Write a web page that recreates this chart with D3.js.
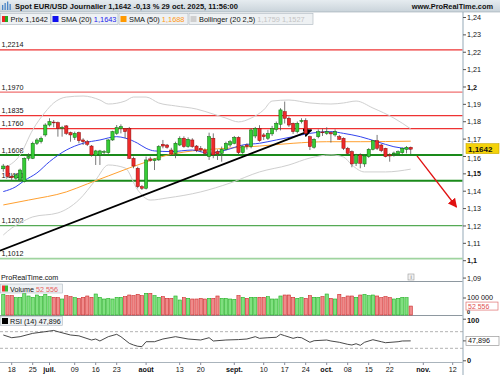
<!DOCTYPE html>
<html><head><meta charset="utf-8">
<script src="https://cdn.jsdelivr.net/npm/d3@7/dist/d3.min.js"></script>
<style>body{margin:0;background:#fff}svg{display:block;font-family:"Liberation Sans",Arial,sans-serif}</style>
</head><body><svg id="c" width="500" height="375"></svg>
<script>
// ---------------- DATA ----------------
const firstDay = "2025-06-16", lastAxisDay = "2025-11-14";
const open  = [1.1529,1.1545,1.1485,1.1475,1.1465,1.1455,1.1590,1.1589,1.1676,1.1685,1.1724,1.1781,1.1798,1.1795,1.1762,1.1776,1.1737,1.1710,1.1737,1.1695,1.1685,1.1660,1.1605,1.1609,1.1625,1.1622,1.1695,1.1733,1.1760,1.1760,1.1762,1.1589,1.1532,1.1426,1.1417,1.1586,1.1576,1.1580,1.1670,1.1666,1.1637,1.1618,1.1666,1.1705,1.1657,1.1695,1.1660,1.1647,1.1637,1.1599,1.1705,1.1628,1.1618,1.1641,1.1666,1.1676,1.1710,1.1622,1.1666,1.1657,1.1718,1.1762,1.1724,1.1705,1.1730,1.1756,1.1785,1.1858,1.1820,1.1791,1.1743,1.1801,1.1807,1.1714,1.1653,1.1714,1.1741,1.1733,1.1737,1.1724,1.1714,1.1705,1.1647,1.1628,1.1561,1.1609,1.1557,1.1599,1.1641,1.1691,1.1666,1.1647,1.1609,1.1614,1.1614,1.1622,1.1641,1.1653];
const high  = [1.1557,1.1550,1.1505,1.1503,1.1530,1.1595,1.1618,1.1685,1.1705,1.1715,1.1791,1.1820,1.1810,1.1801,1.1776,1.1781,1.1743,1.1743,1.1743,1.1705,1.1695,1.1666,1.1638,1.1638,1.1637,1.1700,1.1748,1.1781,1.1785,1.1762,1.1770,1.1599,1.1541,1.1436,1.1599,1.1599,1.1589,1.1665,1.1695,1.1672,1.1650,1.1685,1.1716,1.1716,1.1710,1.1705,1.1666,1.1660,1.1647,1.1737,1.1733,1.1640,1.1657,1.1685,1.1695,1.1718,1.1716,1.1665,1.1676,1.1762,1.1770,1.1780,1.1735,1.1753,1.1776,1.1801,1.1878,1.1916,1.1830,1.1795,1.1801,1.1820,1.1820,1.1720,1.1705,1.1756,1.1760,1.1768,1.1743,1.1756,1.1724,1.1710,1.1655,1.1635,1.1615,1.1618,1.1610,1.1648,1.1695,1.1724,1.1672,1.1650,1.1618,1.1628,1.1635,1.1652,1.1660,1.1657];
const low   = [1.1512,1.1478,1.1461,1.1465,1.1455,1.1450,1.1576,1.1585,1.1666,1.1675,1.1714,1.1772,1.1768,1.1714,1.1714,1.1724,1.1685,1.1695,1.1676,1.1666,1.1660,1.1599,1.1551,1.1551,1.1609,1.1615,1.1690,1.1724,1.1733,1.1705,1.1585,1.1532,1.1417,1.1407,1.1410,1.1570,1.1522,1.1575,1.1647,1.1645,1.1605,1.1590,1.1660,1.1650,1.1650,1.1650,1.1625,1.1625,1.1605,1.1580,1.1590,1.1580,1.1570,1.1635,1.1655,1.1670,1.1609,1.1615,1.1640,1.1647,1.1705,1.1685,1.1695,1.1695,1.1718,1.1743,1.1750,1.1790,1.1770,1.1730,1.1733,1.1790,1.1725,1.1637,1.1645,1.1705,1.1718,1.1724,1.1680,1.1714,1.1695,1.1637,1.1610,1.1538,1.1545,1.1532,1.1540,1.1592,1.1635,1.1637,1.1625,1.1595,1.1570,1.1599,1.1605,1.1615,1.1618,1.1614];
const close = [1.1545,1.1484,1.1478,1.1494,1.1522,1.1589,1.1600,1.1676,1.1695,1.1705,1.1781,1.1801,1.1795,1.1762,1.1768,1.1733,1.1724,1.1733,1.1691,1.1685,1.1670,1.1609,1.1632,1.1632,1.1628,1.1695,1.1743,1.1766,1.1772,1.1743,1.1589,1.1545,1.1426,1.1417,1.1580,1.1578,1.1586,1.1657,1.1660,1.1653,1.1614,1.1676,1.1705,1.1657,1.1699,1.1657,1.1634,1.1637,1.1618,1.1714,1.1609,1.1615,1.1641,1.1676,1.1685,1.1710,1.1622,1.1657,1.1657,1.1753,1.1762,1.1691,1.1714,1.1733,1.1762,1.1791,1.1868,1.1820,1.1781,1.1743,1.1791,1.1807,1.1733,1.1657,1.1699,1.1743,1.1737,1.1743,1.1730,1.1743,1.1699,1.1647,1.1618,1.1557,1.1609,1.1561,1.1603,1.1641,1.1691,1.1647,1.1634,1.1599,1.1603,1.1620,1.1628,1.1647,1.1653,1.1642];
const volume = [121600,113700,113700,102000,103900,127500,111800,103900,117600,107800,121600,107800,103900,102000,94100,113700,107800,102000,98000,103900,111800,103900,123500,103900,94100,98000,94100,103900,103900,107800,117600,113700,121600,113700,127500,127500,113700,103900,107800,98000,98000,111800,88200,102000,98000,94100,94100,98000,94100,98000,98000,111800,98000,98000,94100,92200,113700,103900,98000,103900,103900,103900,103900,107800,94100,94100,111800,117600,117600,103900,98000,102000,98000,113700,103900,103900,107800,123500,98000,94100,121600,102000,111800,111800,103900,117600,121600,113700,117600,111800,102000,107800,102000,94100,98000,103900,102000,52556];
// indicator readings: [trading-day index, value]
const sma20 = [[0,1.1398],[3,1.1426],[5,1.1461],[8,1.1505],[11,1.1570],[15,1.1637],[19,1.1676],[23,1.1695],[27,1.1714],[29,1.1706],[32,1.1676],[34,1.1647],[36,1.1632],[40,1.1628],[45,1.1637],[49,1.1618],[53,1.1637],[57,1.1666],[61,1.1676],[65,1.1695],[69,1.1714],[73,1.1733],[78,1.1743],[81,1.1733],[85,1.1714],[89,1.1685],[93,1.1656],[97,1.1643]];
const sma50 = [[0,1.1321],[6,1.1349],[15,1.1396],[20,1.1442],[25,1.1488],[30,1.1534],[34,1.1568],[37,1.1594],[45,1.1632],[53,1.1647],[61,1.1660],[69,1.1676],[77,1.1685],[85,1.1685],[97,1.1688]];
const bollUp = [[0,1.1534],[4,1.1609],[7,1.1753],[10,1.1856],[12,1.1908],[15,1.1942],[19,1.1948],[23,1.1925],[25,1.1902],[29,1.1919],[31,1.1942],[34,1.1942],[37,1.1908],[41,1.1891],[46,1.1873],[50,1.1844],[53,1.1821],[56,1.1799],[59,1.1821],[62,1.1868],[64,1.1919],[68,1.1925],[73,1.1908],[78,1.1902],[81,1.1908],[84,1.1919],[88,1.1879],[93,1.1821],[97,1.1759]];
const bollLow = [[0,1.1148],[2,1.1188],[4,1.1217],[7,1.1252],[13,1.1275],[18,1.1350],[22,1.1465],[25,1.1551],[29,1.1534],[32,1.1407],[35,1.1349],[39,1.1361],[47,1.1396],[54,1.1447],[61,1.1511],[68,1.1551],[73,1.1591],[78,1.1609],[81,1.1597],[83,1.1551],[86,1.1511],[91,1.1511],[97,1.1527]];
const rsi = [[0,62],[2,55.5],[4,58],[7,66],[10,70],[12,73],[13,70],[16,62],[18,60],[21,50],[22,52.4],[23,47.6],[25,58],[27,63.7],[28,58],[30,42],[31,38],[32,35],[33,34],[34,45.9],[36,45.9],[38,52.4],[41,58],[44,52.4],[47,50],[49,55.5],[50,47.6],[53,50],[56,51],[58,52.4],[60,58],[61,54],[63,55.5],[65,56.5],[66,63.7],[67,60.4],[69,54],[70,56.5],[71,55.5],[73,44.5],[74,48.3],[77,50],[78,47.6],[80,44.5],[82,39.6],[83,38],[84,41],[85,37.2],[86,44.5],[88,50.7],[90,45.9],[91,43.5],[94,45.9],[95,47.6],[97,47.9]];
const levelValues = [1.2214,1.1970,1.1835,1.1760,1.1608,1.1460,1.1202,1.1012];
const levelLabels = ["1,2214","1,1970","1,1835","1,1760","1,1608","1,1460","1,1202","1,1012"];
const trendLine = [[-0.8,1.1058],[73.4,1.1752]];
const forecastArrow = [[98.5,1.1603],[107.9,1.1309]];
const priceTicks = [1.09,1.10,1.11,1.12,1.13,1.14,1.15,1.16,1.17,1.18,1.19,1.20,1.21,1.22,1.23,1.24];
const boldPriceTicks = [1.10,1.15,1.20];
const xTickDates  = ["2025-06-18","2025-06-25","2025-07-01","2025-07-09","2025-07-16","2025-07-23","2025-08-01","2025-08-13","2025-08-20","2025-09-01","2025-09-10","2025-09-17","2025-09-24","2025-10-01","2025-10-08","2025-10-15","2025-10-22","2025-11-03","2025-11-12"];
const xTickLabels = ["18","25","juil.","09","16","23","août","13","20","sept.","10","17","24","oct.","08","15","22","nov.","12"];
const lastPrice = 1.1642, lastVolume = 52556, lastRsi = 47.896;

// ---------------- SETUP ----------------
const days = [];
for (let d = new Date(firstDay + "T00:00:00Z"); d <= new Date(lastAxisDay + "T00:00:00Z"); d.setUTCDate(d.getUTCDate() + 1)) {
  const w = d.getUTCDay(); if (w !== 0 && w !== 6) days.push(d.toISOString().slice(0, 10));
}
const svg = d3.select("#c");
const AX = 463;
const x = d3.scaleLinear().domain([0, 107]).range([3.3, 452.7]);
const y = d3.scaleLinear().domain([1.10, 1.24]).range([260.7, 17.5]);
const yv = d3.scaleLinear().domain([0, 100000]).range([315, 298]);
const yr = d3.scaleLinear().domain([0, 100]).range([360.8, 319.2]);
const fmt = v => String(v).replace(".", ",");

const defs = svg.append("defs");
defs.append("clipPath").attr("id", "pc").append("rect").attr("x", 0).attr("y", 12).attr("width", AX).attr("height", 269.5);
defs.append("marker").attr("id", "ahB").attr("viewBox", "0 0 10 10").attr("refX", 9).attr("refY", 5)
  .attr("markerWidth", 5).attr("markerHeight", 5).attr("orient", "auto").attr("markerUnits", "strokeWidth")
  .append("path").attr("d", "M0,0L10,5L0,10z").attr("fill", "#000");
defs.append("marker").attr("id", "ahR").attr("viewBox", "0 0 10 10").attr("refX", 9).attr("refY", 5)
  .attr("markerWidth", 7).attr("markerHeight", 7).attr("orient", "auto").attr("markerUnits", "strokeWidth")
  .append("path").attr("d", "M0,0L10,5L0,10z").attr("fill", "#e01010");
const hg = defs.append("linearGradient").attr("id", "hg").attr("x1", 0).attr("y1", 0).attr("x2", 0).attr("y2", 1);
hg.append("stop").attr("offset", 0).attr("stop-color", "#e6ecf0");
hg.append("stop").attr("offset", 1).attr("stop-color", "#c9d3da");

// ---------------- PRICE PANEL ----------------
const pp = svg.append("g").attr("clip-path", "url(#pc)");
const levelColor = ["#ee3333","#f07070","#ee3333","#ee3333","#1a8a1a","#1a8a1a","#55aa55","#9fd49f"];
const levelWidth = [1.2,1.2,1.2,1.2,2,2,1.2,1.8];
pp.selectAll("line.lv").data(levelValues).join("line").attr("class", "lv")
  .attr("x1", 0).attr("x2", AX).attr("y1", d => y(d)).attr("y2", d => y(d))
  .attr("stroke", (d, i) => levelColor[i]).attr("stroke-width", (d, i) => levelWidth[i]);
pp.selectAll("text.lv").data(levelLabels).join("text").attr("class", "lv")
  .attr("x", 1.5).attr("y", (d, i) => y(levelValues[i]) - 2.5).attr("font-size", 7.2).attr("fill", "#111").text(d => d);

const line = d3.line().x(d => x(d[0])).y(d => y(d[1])).curve(d3.curveMonotoneX);
pp.append("path").attr("d", line(bollUp)).attr("fill", "none").attr("stroke", "#cfcfcf").attr("stroke-width", 1);
pp.append("path").attr("d", line(bollLow)).attr("fill", "none").attr("stroke", "#cfcfcf").attr("stroke-width", 1);
pp.append("path").attr("d", line(sma50)).attr("fill", "none").attr("stroke", "#ffa030").attr("stroke-width", 1);
pp.append("path").attr("d", line(sma20)).attr("fill", "none").attr("stroke", "#3344ee").attr("stroke-width", 1);

pp.append("line").attr("x1", x(trendLine[0][0])).attr("y1", y(trendLine[0][1]))
  .attr("x2", x(trendLine[1][0])).attr("y2", y(trendLine[1][1]))
  .attr("stroke", "#000").attr("stroke-width", 1.8).attr("marker-end", "url(#ahB)");

const idx = d3.range(close.length);
const cg = pp.append("g");
cg.selectAll("line.w").data(idx).join("line").attr("class", "w")
  .attr("x1", i => x(i)).attr("x2", i => x(i)).attr("y1", i => y(high[i])).attr("y2", i => y(low[i]))
  .attr("stroke", "#555").attr("stroke-width", 0.8);
cg.selectAll("rect.b").data(idx).join("rect").attr("class", "b")
  .attr("x", i => x(i) - 1.6).attr("width", 3.2)
  .attr("y", i => y(Math.max(open[i], close[i])))
  .attr("height", i => Math.max(0.8, Math.abs(y(open[i]) - y(close[i]))))
  .attr("fill", i => close[i] >= open[i] ? "#35cc35" : "#ee2a2a")
  .attr("stroke", i => close[i] >= open[i] ? "#0c6a0c" : "#8a0c0c").attr("stroke-width", 0.5);

pp.append("line").attr("x1", x(forecastArrow[0][0])).attr("y1", y(forecastArrow[0][1]))
  .attr("x2", x(forecastArrow[1][0])).attr("y2", y(forecastArrow[1][1]))
  .attr("stroke", "#e01010").attr("stroke-width", 1.3).attr("marker-end", "url(#ahR)");

// ---------------- PANELS & RIGHT AXIS ----------------
svg.append("line").attr("x1", 0).attr("x2", AX).attr("y1", 281.5).attr("y2", 281.5).attr("stroke", "#8e98a0");
svg.append("line").attr("x1", 0).attr("x2", AX).attr("y1", 315.5).attr("y2", 315.5).attr("stroke", "#8e98a0");
svg.append("line").attr("x1", 0).attr("x2", AX).attr("y1", 362.5).attr("y2", 362.5).attr("stroke", "#aab4bc");
svg.append("line").attr("x1", AX).attr("x2", AX).attr("y1", 12).attr("y2", 375).attr("stroke", "#b4c2cc").attr("stroke-width", 1.4);

const ax = svg.append("g");
ax.selectAll("line.pt").data(priceTicks).join("line").attr("class", "pt")
  .attr("x1", AX).attr("x2", AX + 3).attr("y1", d => y(d)).attr("y2", d => y(d)).attr("stroke", "#555");
ax.selectAll("text.pt").data(priceTicks).join("text").attr("class", "pt")
  .attr("x", AX + 4).attr("y", d => y(d) + (Math.abs(d - 1.16) < 1e-9 ? 4.2 : 2.6)).attr("font-size", 7.2)
  .attr("font-weight", d => boldPriceTicks.some(b => Math.abs(b - d) < 1e-9) ? "bold" : "normal")
  .attr("fill", "#111").text(d => fmt(+d.toFixed(2)));

// last price box
const lp = svg.append("g");
lp.append("rect").attr("x", AX + 3).attr("y", y(lastPrice) - 5.5).attr("width", 33).attr("height", 10)
  .attr("fill", "#f4d20a").attr("stroke", "#c9a800").attr("stroke-width", 0.6);
lp.append("text").attr("x", AX + 5).attr("y", y(lastPrice) + 2.6).attr("font-size", 8).attr("font-weight", "bold").attr("fill", "#111").text(fmt(lastPrice));

// ---------------- VOLUME ----------------
svg.append("text").attr("x", 1).attr("y", 280).attr("font-size", 7.2).attr("fill", "#111").text("ProRealTime.com");
const ib = svg.append("g");
ib.append("rect").attr("x", 408).attr("y", 274).attr("width", 6).attr("height", 6).attr("fill", "#f2f2f2").attr("stroke", "#999").attr("stroke-width", 0.6);
ib.append("text").attr("x", 411).attr("y", 279.3).attr("font-size", 5.5).attr("text-anchor", "middle").attr("fill", "#666").text("i");

svg.append("g").selectAll("rect").data(idx).join("rect")
  .attr("x", i => x(i) - 1.6).attr("width", 3.2)
  .attr("y", i => yv(volume[i])).attr("height", i => yv(0) - yv(volume[i]))
  .attr("fill", i => close[i] >= open[i] ? "#7fe07f" : "#f08a8a")
  .attr("stroke", i => close[i] >= open[i] ? "#22b022" : "#cc2a2a").attr("stroke-width", 0.6);

const vl = svg.append("g");
vl.append("rect").attr("x", 0.5).attr("y", 284).attr("width", 62).attr("height", 9).attr("fill", "#eef1f3").attr("stroke", "#b0bac2").attr("stroke-width", 0.6);
vl.append("rect").attr("x", 2).attr("y", 285.5).attr("width", 3).attr("height", 6).attr("fill", "#ee3333");
vl.append("rect").attr("x", 5).attr("y", 285.5).attr("width", 3).attr("height", 6).attr("fill", "#33bb33");
vl.append("text").attr("x", 10).attr("y", 291.5).attr("font-size", 7.2).attr("fill", "#111").text("Volume ")
  .append("tspan").attr("fill", "#e86060").text("52 556");

svg.append("line").attr("x1", AX).attr("x2", AX + 3).attr("y1", yv(100000)).attr("y2", yv(100000)).attr("stroke", "#555");
svg.append("text").attr("x", AX + 4).attr("y", yv(100000) + 2.4).attr("font-size", 7.2).attr("fill", "#111").text("100 000");
svg.append("text").attr("x", AX + 4).attr("y", yv(0) - 0.8).attr("font-size", 5.6).attr("font-weight", "bold").attr("fill", "#111").text("0");
svg.append("rect").attr("x", AX + 3).attr("y", yv(lastVolume) - 4).attr("width", 32).attr("height", 8).attr("fill", "#fff").attr("stroke", "#e07070").attr("stroke-width", 0.7);
svg.append("text").attr("x", AX + 5).attr("y", yv(lastVolume) + 2.5).attr("font-size", 7).attr("fill", "#e05050").text("52 556");

// ---------------- RSI ----------------
svg.append("g").selectAll("line").data([70, 30]).join("line")
  .attr("x1", 0).attr("x2", AX).attr("y1", d => yr(d)).attr("y2", d => yr(d))
  .attr("stroke", "#a0a0a0").attr("stroke-width", 0.8).attr("stroke-dasharray", "3,2");
const rline = d3.line().x(d => x(d[0])).y(d => yr(d[1])).curve(d3.curveLinear);
svg.append("path").attr("d", rline(rsi)).attr("fill", "none").attr("stroke", "#333").attr("stroke-width", 0.9);
const rl = svg.append("g");
rl.append("rect").attr("x", 0.5).attr("y", 316.5).attr("width", 62).attr("height", 9).attr("fill", "#eef1f3").attr("stroke", "#b0bac2").attr("stroke-width", 0.6);
rl.append("rect").attr("x", 2).attr("y", 318).attr("width", 6).attr("height", 6).attr("fill", "#000");
rl.append("text").attr("x", 10).attr("y", 324).attr("font-size", 7.2).attr("fill", "#111").text("RSI (14) 47,896");

svg.append("g").selectAll("line").data([100, 0]).join("line")
  .attr("x1", AX).attr("x2", AX + 3).attr("y1", d => yr(d)).attr("y2", d => yr(d)).attr("stroke", "#555");
svg.append("g").selectAll("text").data([100, 0]).join("text")
  .attr("x", AX + 4).attr("y", d => yr(d) + (d === 100 ? 3.8 : 2.6)).attr("font-size", 7.4).attr("font-weight", "bold").attr("fill", "#111").text(d => d);
svg.append("line").attr("x1", AX).attr("x2", AX + 3).attr("y1", yr(lastRsi)).attr("y2", yr(lastRsi)).attr("stroke", "#555");
svg.append("rect").attr("x", AX + 3).attr("y", yr(lastRsi) - 4.5).attr("width", 33).attr("height", 9).attr("fill", "#fff").attr("stroke", "#999").attr("stroke-width", 0.7);
svg.append("text").attr("x", AX + 5).attr("y", yr(lastRsi) + 2.6).attr("font-size", 7.2).attr("fill", "#111").text("47,896");

// ---------------- X AXIS ----------------
const xt = svg.append("g");
xt.selectAll("line").data(xTickDates).join("line")
  .attr("x1", d => x(days.indexOf(d))).attr("x2", d => x(days.indexOf(d)))
  .attr("y1", 362.5).attr("y2", 365).attr("stroke", "#889");
xt.selectAll("text").data(xTickDates).join("text")
  .attr("x", d => x(days.indexOf(d))).attr("y", 372).attr("text-anchor", "middle").attr("font-size", 7.2)
  .attr("font-weight", (d, i) => /[a-z]/.test(xTickLabels[i]) ? "bold" : "normal")
  .attr("fill", "#111").text((d, i) => xTickLabels[i]);

// ---------------- HEADER & LEGEND ----------------
svg.append("rect").attr("x", 0).attr("y", 0).attr("width", 500).attr("height", 12).attr("fill", "url(#hg)");
svg.append("line").attr("x1", 0).attr("x2", 500).attr("y1", 12).attr("y2", 12).attr("stroke", "#9aa8b2").attr("stroke-width", 0.6);
const ic = svg.append("g");
ic.append("rect").attr("x", 2).attr("y", 5).attr("width", 1.3).attr("height", 5).attr("fill", "#4a86c8");
ic.append("rect").attr("x", 4.5).attr("y", 3).attr("width", 1.3).attr("height", 7).attr("fill", "#4a86c8");
ic.append("rect").attr("x", 7).attr("y", 1.5).attr("width", 1.3).attr("height", 8.5).attr("fill", "#4a86c8");
ic.append("rect").attr("x", 9.5).attr("y", 4).attr("width", 1.3).attr("height", 6).attr("fill", "#4a86c8");
svg.append("text").attr("x", 15).attr("y", 9).attr("font-size", 7.6).attr("font-weight", "bold").attr("fill", "#111")
  .attr("textLength", 223).attr("lengthAdjust", "spacingAndGlyphs")
  .text("Spot EUR/USD Journalier 1,1642 -0,13 % 29 oct. 2025, 11:56:00");
svg.append("text").attr("x", 493).attr("y", 9).attr("text-anchor", "end").attr("font-size", 7.4).attr("font-weight", "bold").attr("fill", "#111").text("www.ProRealTime.com");

const legendItems = [
  {x: 0.5, w: 50, sw: ["#ee2222", "#22aa22"], name: "Prix 1,1642", val: "", vc: "#111"},
  {x: 51, w: 67, sw: ["#1010ee"], name: "SMA (20) ", val: "1,1643", vc: "#2222ee"},
  {x: 119, w: 69, sw: ["#ff9900"], name: "SMA (50) ", val: "1,1688", vc: "#ff9a20"},
  {x: 189, w: 124, sw: ["#cfcfcf"], name: "Bollinger (20 2,5) ", val: "1,1759 1,1527", vc: "#c4c4c4"}
];
const lg = svg.append("g").selectAll("g").data(legendItems).join("g");
lg.append("rect").attr("x", d => d.x).attr("y", 13.5).attr("width", d => d.w).attr("height", 11)
  .attr("fill", "#eef1f3").attr("stroke", "#aab4bc").attr("stroke-width", 0.6);
lg.each(function (d) {
  const g = d3.select(this);
  const n = d.sw.length, sw = 6 / n;
  d.sw.forEach((c, k) => g.append("rect").attr("x", d.x + 1.5 + k * sw).attr("y", 16).attr("width", sw).attr("height", 6).attr("fill", c));
  const t = g.append("text").attr("x", d.x + 10).attr("y", 21.6).attr("font-size", 7.4).attr("fill", "#111").text(d.name);
  if (d.val) t.append("tspan").attr("fill", d.vc).text(d.val);
});
</script></body></html>
